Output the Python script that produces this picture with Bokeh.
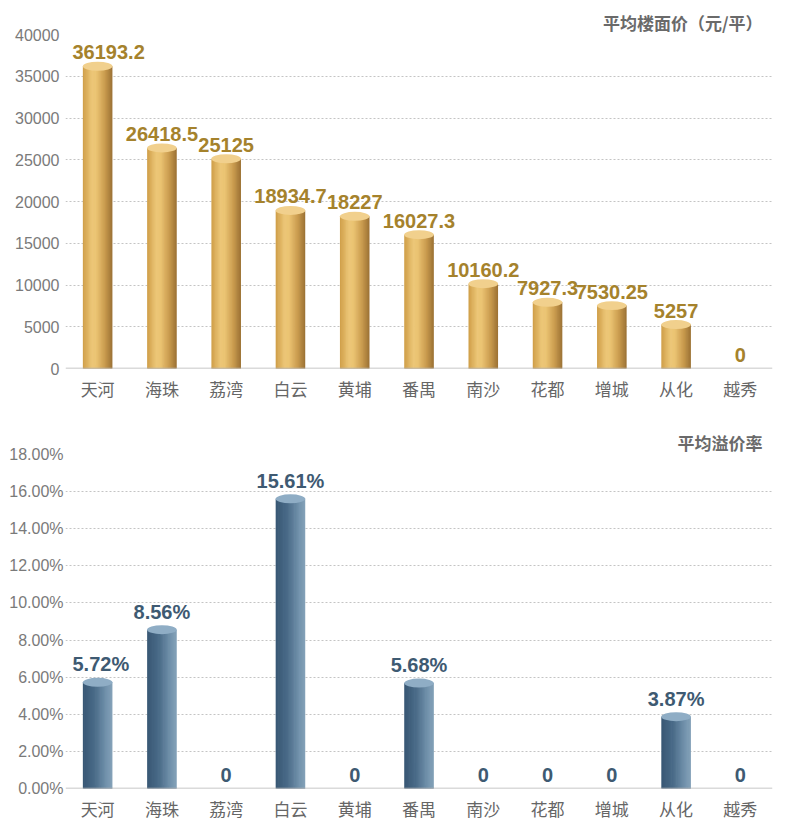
from bokeh.plotting import figure
from bokeh.layouts import column
from bokeh.models import ColumnDataSource, FixedTicker, PrintfTickFormatter, Span
from bokeh.transform import dodge
from bokeh.core.properties import value
from bokeh.embed import file_html
from bokeh.resources import INLINE

districts = ["天河", "海珠", "荔湾", "白云", "黄埔", "番禺", "南沙", "花都", "增城", "从化", "越秀"]
price = [36193.2, 26418.5, 25125, 18934.7, 18227, 16027.3, 10160.2, 7927.3, 7530.25, 5257, 0]
price_labels = ["36193.2", "26418.5", "25125", "18934.7", "18227", "16027.3", "10160.2", "7927.3", "7530.25", "5257", "0"]
premium = [5.72, 8.56, 0, 15.61, 0, 5.68, 0, 0, 0, 3.87, 0]
premium_labels = ["5.72%", "8.56%", "0", "15.61%", "0", "5.68%", "0", "0", "0", "3.87%", "0"]
price_ticks = [0, 5000, 10000, 15000, 20000, 25000, 30000, 35000, 40000]
premium_ticks = [0, 2, 4, 6, 8, 10, 12, 14, 16, 18]
title_top = "平均楼面价（元/平）"
title_bottom = "平均溢价率"

W = 780
BORDER_L = 65
BORDER_R = 8
BAR_W = 0.46
NSTRIP = 24
LABEL_PX = 20


def hex2rgb(h):
    return tuple(int(h[i:i + 2], 16) for i in (1, 3, 5))


def ramp(stops, n):
    out = []
    for k in range(n):
        t = (k + 0.5) / n
        for (p0, c0), (p1, c1) in zip(stops[:-1], stops[1:]):
            if p0 <= t <= p1:
                f = (t - p0) / (p1 - p0)
                a, b = hex2rgb(c0), hex2rgb(c1)
                out.append("#%02x%02x%02x" % tuple(round(a[j] + (b[j] - a[j]) * f) for j in range(3)))
                break
    return out


gold_grad = ramp([(0, "#cf9e48"), (0.3, "#ecc677"), (0.45, "#ebc473"), (0.75, "#c99a4d"), (1, "#9a7134")], NSTRIP)
blue_grad = ramp([(0, "#385774"), (0.4, "#4a6b88"), (0.8, "#7393ad"), (1, "#84a1b8")], NSTRIP)


def text_width(s, px):
    # approximate width of bold Arial-like text
    em = 0.0
    for ch in s:
        em += 0.278 if ch == "." else (0.889 if ch == "%" else 0.556)
    return em * px


def keep_inside(labels):
    # shift a value label right if it would be cut by the left edge of the plot area
    band = (W - BORDER_L - BORDER_R) / len(labels)
    dx = []
    for i, s in enumerate(labels):
        left = (i + 0.5) * band - text_width(s, LABEL_PX) / 2
        dx.append(max(0.0, 7 - left))
    return dx


def make_chart(values, labels, ticks, ymax, height, top_border, bottom_border,
               grad, cap_color, base_color, label_color, title, fmt, title_off, ystand):
    src = ColumnDataSource(dict(x=districts, v=values, lab=labels, dx=keep_inside(labels),
                                vb=[v if v > 0 else float("nan") for v in values]))
    p = figure(x_range=districts, y_range=(0, ymax), width=W, height=height,
               output_backend="svg", toolbar_location=None,
               min_border_left=BORDER_L, min_border_right=BORDER_R,
               min_border_top=top_border, min_border_bottom=bottom_border)
    p.outline_line_color = None
    p.background_fill_color = "white"
    p.border_fill_color = "white"

    p.title.text = title
    p.title.align = "right"
    p.title.offset = title_off
    p.title.standoff = 0
    p.title.text_font = "Noto Sans CJK SC"
    p.title.text_font_size = "17px"
    p.title.text_font_style = "bold"
    p.title.text_color = "#6a6a6a"

    p.xgrid.grid_line_color = None
    p.ygrid.grid_line_color = "#c4c4c4"
    p.ygrid.grid_line_dash = "2 2"
    p.ygrid.grid_line_width = 1

    p.yaxis.ticker = FixedTicker(ticks=ticks)
    if fmt:
        p.yaxis.formatter = PrintfTickFormatter(format=fmt)
    p.yaxis.axis_line_color = None
    p.yaxis.major_tick_line_color = None
    p.yaxis.minor_tick_line_color = None
    p.yaxis.major_tick_out = 0
    p.yaxis.major_label_text_font = "Liberation Sans"
    p.yaxis.major_label_text_font_size = "16px"
    p.yaxis.major_label_text_color = "#7a7a7a"
    p.yaxis.major_label_standoff = ystand

    p.xaxis.axis_line_color = None
    p.xaxis.major_tick_line_color = None
    p.xaxis.minor_tick_line_color = None
    p.xaxis.major_tick_out = 0
    p.xaxis.major_label_text_font = "Noto Sans CJK SC"
    p.xaxis.major_label_text_font_size = "17px"
    p.xaxis.major_label_text_color = "#666666"
    p.xaxis.major_label_standoff = 7

    sw = BAR_W / NSTRIP
    p.ellipse(x="x", y=0, width=BAR_W, height=7, height_units="screen",
              source=ColumnDataSource(dict(x=[d for d, v in zip(districts, values) if v > 0])),
              fill_color=base_color, line_color=None)
    for i, c in enumerate(grad):
        off = -BAR_W / 2 + sw * (i + 0.5)
        w = sw * (1.6 if i < NSTRIP - 1 else 1.0)
        o = off + (sw * 0.3 if i < NSTRIP - 1 else 0)
        p.vbar(x=dodge("x", o, range=p.x_range), top="v", bottom=0,
               width=w, source=src, fill_color=c, line_color=None)
    p.ellipse(x="x", y="vb", width=BAR_W, height=9, height_units="screen",
              source=src, fill_color=cap_color, line_color=None)

    p.add_layout(Span(location=0, dimension="width", line_color="#b5b5b5", line_width=1.5))

    p.text(x="x", y="v", text="lab", source=src, text_align="center",
           text_baseline="bottom", x_offset="dx", y_offset=-7, text_color=label_color,
           text_font_size="%dpx" % LABEL_PX, text_font_style="bold",
           text_font=value("Liberation Sans"))
    return p


p1 = make_chart(price, price_labels, price_ticks, 40000, 416, 34, 48,
                gold_grad, "#f1d08d", "#a97f3b", "#a5822c", title_top, None, 10, 6)
p2 = make_chart(premium, premium_labels, premium_ticks, 18, 412, 38, 40,
                blue_grad, "#8fadc5", "#3a5673", "#3e5a72", title_bottom, "%.2f%%", 10, 2)

layout = column(p1, p2, spacing=0)
open("out.html", "w").write(file_html(layout, INLINE))
